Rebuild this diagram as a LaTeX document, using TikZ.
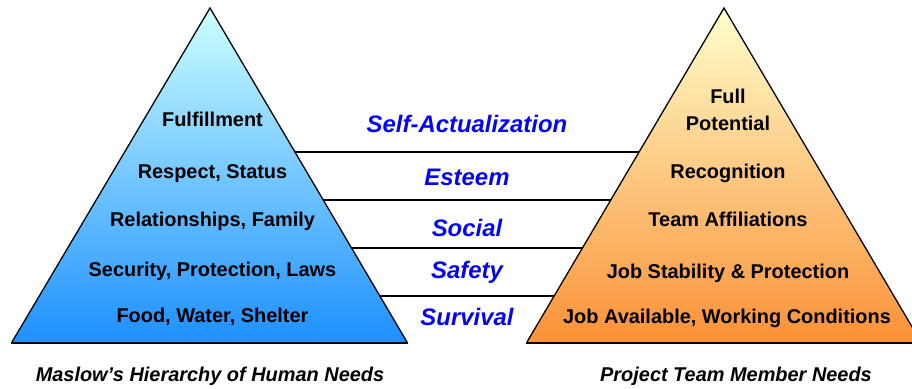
\documentclass[tikz,border=0pt]{standalone}
\usepackage{fontspec}
\setmainfont{Liberation Sans}
\usetikzlibrary{calc}
\usepackage{xcolor}

\definecolor{lowblue}{RGB}{30,144,255}
\definecolor{highblue}{RGB}{204,255,255}
\definecolor{loworange}{RGB}{250,145,55}
\definecolor{highorange}{RGB}{255,255,204}
\definecolor{levelblue}{RGB}{5,5,240}

\tikzset{
  need/.style={anchor=base, align=center, font=\fontsize{20}{27}\selectfont\bfseries},
  level/.style={anchor=base, text=levelblue, font=\fontsize{24}{26}\selectfont\bfseries\itshape},
  title/.style={anchor=base, font=\fontsize{20}{22}\selectfont\bfseries\itshape},
  edge/.style={line width=1.3bp, line join=miter},
}

\begin{document}
\begin{tikzpicture}[x=1bp, y=1bp]
        \useasboundingbox (0,0) rectangle (912,388);

        % corners of the two pyramids
        \coordinate (maslowtop) at (210,380);
        \coordinate (maslowleft) at (12,46);
        \coordinate (maslowright) at (407,46);
        \coordinate (teamtop) at (724,380);
        \coordinate (teamleft) at (527,46);
        \coordinate (teamright) at (921,46);

        \shade[top color=highblue, bottom color=lowblue] (maslowtop) -- (maslowright) -- (maslowleft) -- cycle;
        \shade[top color=highorange, bottom color=loworange] (teamtop) -- (teamright) -- (teamleft) -- cycle;
        \draw[edge] (maslowleft) -- (maslowtop) -- (maslowright);
        \draw[edge] (teamleft) -- (teamtop) -- (teamright);
        \draw[line width=2.5bp] ($(maslowleft)+(-1,-1)$) -- ($(maslowright)+(1,-1)$);
        \draw[line width=2.5bp] ($(teamleft)+(-1,-1)$) -- ($(teamright)+(1,-1)$);

        % level dividers between the pyramids
        \foreach \t [count=\i] in {0.4311,0.5749,0.7186,0.8623} {
          \coordinate (maslow\i) at ($(maslowtop)!\t!(maslowright)$);
          \coordinate (team\i) at ($(teamtop)!\t!(teamleft)$);
          \draw[edge] (maslow\i) -- (team\i);
        }

        \node[need] (fulfillment) at (212.5,261.8) {Fulfillment};
        \node[need] (respect) at (212.5,209.8) {Respect, Status};
        \node[need] (relations) at (212.5,161.8) {Relationships, Family};
        \node[need] (security) at (212.5,111.8) {Security, Protection, Laws};
        \node[need] (food) at (212.5,65.8) {Food, Water, Shelter};

        \node[level] (selfact) at (467,255.4) {Self-Actualization};
        \node[level] (esteem) at (467,202.4) {Esteem};
        \node[level] (social) at (467,151.4) {Social};
        \node[level] (safety) at (467,109.4) {Safety};
        \node[level] (survival) at (467,62.4) {Survival};

        \node[need, anchor=center] (potential) at (728,278.5) {Full\\Potential};
        \node[need] (recognition) at (728,209.8) {Recognition};
        \node[need] (affiliation) at (728,161.8) {Team Affiliations};
        \node[need] (stability) at (728,109.8) {Job Stability \& Protection};
        \node[need] (available) at (727,64.8) {Job Available, Working Conditions};

        \node[title] (maslow) at (210,7) {Maslow’s Hierarchy of Human Needs};
        \node[title] (team) at (736,7) {Project Team Member Needs};

      \end{tikzpicture}
\end{document}
